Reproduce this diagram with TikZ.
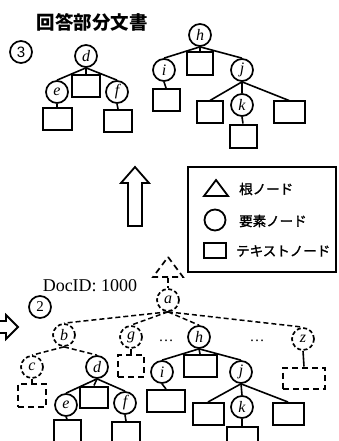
\documentclass[tikz,border=0pt]{standalone}
\usepackage{fontspec}
\setmainfont{Liberation Serif}
\newfontfamily\jp{Noto Sans CJK JP}
\newfontfamily\jpm{Noto Sans CJK JP}[FakeBold=1.5]
\newfontfamily\sansf{Liberation Sans}
\begin{document}
\begin{tikzpicture}[x=1pt,y=-1pt,
  elem/.style={circle,draw,line width=1.7pt,minimum size=22pt,inner sep=0pt,font=\itshape\fontsize{16}{16}\selectfont},
  delem/.style={elem,dash pattern=on 4pt off 2.5pt},
  txt/.style={rectangle,draw,line width=2pt,minimum width=27pt,minimum height=22pt,inner sep=0pt},
  dtxt/.style={txt,dash pattern=on 6pt off 4pt},
  edge/.style={line width=1.6pt},
  dedge/.style={line width=1.5pt,dash pattern=on 5pt off 3pt},
  num/.style={circle,draw,line width=1.7pt,minimum size=22pt,inner sep=0pt,font=\fontsize{15}{15}\selectfont},
  legtxt/.style={anchor=west,inner sep=0pt,font=\jpm\fontsize{13.5}{13.5}\selectfont},
  hollow/.style={draw,line width=1.8pt,fill=white,line join=miter}
]
\useasboundingbox (0,0) rectangle (339,441);
\clip (0,0) rectangle (339,441);

% ---------- top: answer partial documents ----------
\node[inner sep=0pt,font=\jp\bfseries\fontsize{18.5}{18.5}\selectfont] (title) at (92,22) {回答部分文書};
\node[num,font=\sansf\fontsize{15}{15}\selectfont] (n3) at (21,52) {3};

\node[elem] (d) at (86,56) {d};
\node[txt,minimum width=28pt] (dbox) at (86,86) {};
\node[elem] (e) at (57,92) {e};
\node[elem] (f) at (117,92) {f};
\node[txt,minimum width=29pt] (ebox) at (57,119) {};
\node[txt,minimum width=28pt] (fbox) at (118,121) {};
\foreach \c in {e,dbox,f} \draw[edge] (d.south) -- (\c.north);
\draw[edge] (e.south) -- (ebox.north);
\draw[edge] (f.south) -- (fbox.north);

\node[elem] (h) at (200,35) {h};
\node[txt,minimum width=26pt,minimum height=23pt] (hbox) at (200,64) {};
\node[elem] (i) at (164,70) {i};
\node[elem] (j) at (242,70) {j};
\node[txt] (ibox) at (166,100) {};
\node[txt,minimum width=26pt,minimum height=21pt] (jl) at (210,112) {};
\node[elem] (k) at (242,105) {k};
\node[txt,minimum width=31pt,minimum height=21pt] (jr) at (289,112) {};
\node[txt,minimum height=23pt] (kbox) at (243,136) {};
\foreach \c in {i,hbox,j} \draw[edge] (h.south) -- (\c.north);
\draw[edge] (i.south) -- (ibox.north);
\foreach \c in {jl,k,jr} \draw[edge] (j.south) -- (\c.north);
\draw[edge] (k.south) -- (kbox.north);

% ---------- up arrow ----------
\draw[hollow] (135,167) -- (149,183) -- (142,183) -- (142,226) -- (128,226) -- (128,183) -- (121,183) -- cycle;

% ---------- legend ----------
\node[draw,line width=1.7pt,minimum width=148pt,minimum height=105pt,inner sep=0pt] (legend) at (262,219.5) {};
\draw[line width=1.8pt,line join=miter] (216,180) -- (228,196) -- (204,196) -- cycle;
\draw[line width=1.8pt] (215,220) circle (10.5);
\draw[line width=1.8pt] (204,243) rectangle (226,258);
\node[legtxt] (l1) at (239,189) {根ノード};
\node[legtxt] (l2) at (239,221) {要素ノード};
\node[legtxt] (l3) at (236,251) {テキストノード};

% ---------- bottom: document ----------
\node[inner sep=0pt,font=\fontsize{18}{18}\selectfont] (docid) at (90,286) {DocID: 1000};
\draw[line width=1.7pt,dash pattern=on 6pt off 4pt] (168,257) -- (183,277) -- (153,277) -- cycle;
\coordinate (rootbase) at (168,278);
\node[num] (n2) at (40,307) {2};
\draw[hollow] (-5,321) -- (6,321) -- (6,315) -- (18,327) -- (6,339) -- (6,333) -- (-5,333) -- cycle;

\node[delem] (a) at (168,300) {a};
\draw[dedge] (rootbase) -- (a.north);

\node[delem] (b) at (64,335) {b};
\node[delem] (g) at (131,337) {g};
\node[elem] (h2) at (199,337) {h};
\node[delem] (z) at (303,339) {z};
\node[inner sep=0pt,font=\fontsize{15}{15}\selectfont] (dots1) at (166,341) {\dots};
\node[inner sep=0pt,font=\fontsize{15}{15}\selectfont] (dots2) at (257,341) {\dots};
\foreach \c in {b,g,h2,z} \draw[dedge] (a.south) -- (\c.north);

\node[delem] (c) at (32,367) {c};
\node[elem] (d2) at (97,367) {d};
\draw[dedge] (b.south) -- (c.north);
\draw[dedge] (b.south) -- (d2.north);
\node[dtxt,minimum width=28pt,minimum height=23pt] (cbox) at (32,395) {};
\draw[edge] (c.south) -- (cbox.north);

\node[dtxt,minimum width=26pt] (gbox) at (131,366) {};
\draw[edge] (g.south) -- (gbox.north);

\node[dtxt,minimum width=42pt,minimum height=21pt] (zbox) at (304,378) {};
\draw[edge] (z.south) -- (zbox.north);

\node[txt,minimum width=28pt,minimum height=21pt] (d2box) at (94,397) {};
\node[elem] (e2) at (66,405) {e};
\node[elem] (f2) at (125,403) {f};
\node[txt] (e2box) at (67,431) {};
\node[txt,minimum width=28pt] (f2box) at (126,433) {};
\foreach \c in {e2,d2box,f2} \draw[edge] (d2.south) -- (\c.north);
\draw[edge] (e2.south) -- (e2box.north);
\draw[edge] (f2.south) -- (f2box.north);

\node[elem] (i2) at (162,372) {i};
\node[txt,minimum width=33pt] (h2box) at (200,366) {};
\node[elem] (j2) at (241,372) {j};
\foreach \c in {i2,h2box,j2} \draw[edge] (h2.south) -- (\c.north);
\node[txt,minimum width=38pt] (i2box) at (166,401) {};
\draw[edge] (i2.south) -- (i2box.north);
\node[txt,minimum width=31pt] (jl2) at (208,414) {};
\node[elem] (k2) at (242,407) {k};
\node[txt,minimum width=31pt] (jr2) at (288,414) {};
\foreach \c in {jl2,k2,jr2} \draw[edge] (j2.south) -- (\c.north);
\node[txt,minimum width=31pt] (k2box) at (242,438) {};
\draw[edge] (k2.south) -- (k2box.north);
\end{tikzpicture}
\end{document}
